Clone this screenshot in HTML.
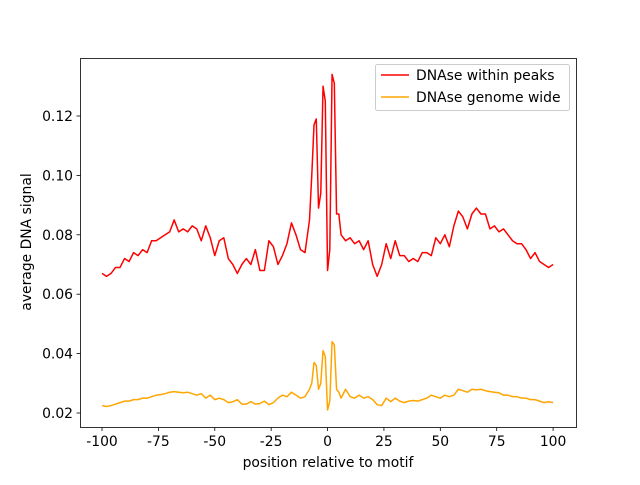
<!DOCTYPE html>
<html><head><meta charset="utf-8"><style>
body{margin:0;background:#fff}
svg text{font-family:"DejaVu Sans","Liberation Sans",sans-serif;font-size:13.9px;fill:#000}
</style></head><body>
<svg id="c" width="640" height="480"></svg>
<script>
const positions=[-100,-98,-96,-94,-92,-90,-88,-86,-84,-82,-80,-78,-76,-74,-72,-70,-68,-66,-64,-62,-60,-58,-56,-54,-52,-50,-48,-46,-44,-42,-40,-38,-36,-34,-32,-30,-28,-26,-24,-22,-20,-18,-16,-14,-12,-10,-8,-7,-6,-5,-4,-3,-2,-1,0,1,2,3,4,5,6,8,10,12,14,16,18,20,22,24,26,28,30,32,34,36,38,40,42,44,46,48,50,52,54,56,58,60,62,64,66,68,70,72,74,76,78,80,82,84,86,88,90,92,94,96,98,100];
const peaks=[0.067,0.066,0.067,0.069,0.069,0.072,0.071,0.074,0.073,0.075,0.074,0.078,0.078,0.079,0.080,0.081,0.085,0.081,0.082,0.081,0.083,0.082,0.078,0.083,0.079,0.073,0.078,0.079,0.072,0.070,0.067,0.070,0.072,0.070,0.075,0.068,0.068,0.078,0.076,0.070,0.073,0.077,0.084,0.080,0.075,0.074,0.085,0.100,0.117,0.119,0.089,0.094,0.130,0.125,0.068,0.075,0.134,0.131,0.087,0.087,0.080,0.078,0.079,0.077,0.078,0.075,0.078,0.070,0.066,0.070,0.077,0.072,0.078,0.073,0.073,0.071,0.072,0.071,0.074,0.074,0.073,0.079,0.077,0.080,0.076,0.083,0.088,0.086,0.082,0.087,0.089,0.087,0.087,0.082,0.083,0.081,0.082,0.080,0.078,0.077,0.077,0.075,0.072,0.074,0.071,0.070,0.069,0.070];
const genome=[0.0225,0.0222,0.0225,0.023,0.0235,0.024,0.024,0.0245,0.0245,0.025,0.025,0.0255,0.026,0.0262,0.0265,0.027,0.0272,0.027,0.0268,0.027,0.0265,0.026,0.0265,0.025,0.026,0.0245,0.025,0.0245,0.0235,0.0238,0.0245,0.023,0.023,0.0238,0.023,0.0232,0.024,0.0228,0.0235,0.025,0.026,0.0255,0.027,0.026,0.025,0.0255,0.028,0.030,0.037,0.036,0.028,0.030,0.041,0.039,0.021,0.024,0.044,0.043,0.028,0.027,0.025,0.028,0.0255,0.025,0.026,0.025,0.0255,0.0245,0.0228,0.0225,0.025,0.0238,0.025,0.024,0.0235,0.024,0.0242,0.024,0.0245,0.025,0.026,0.0255,0.025,0.026,0.0255,0.026,0.028,0.0275,0.027,0.028,0.0278,0.028,0.0275,0.0272,0.027,0.0268,0.026,0.026,0.0255,0.0255,0.025,0.025,0.0245,0.0245,0.024,0.0235,0.0238,0.0235];
const xTicks=[-100,-75,-50,-25,0,25,50,75,100];
const yTicks=[0.02,0.04,0.06,0.08,0.10,0.12];
const NS="http://www.w3.org/2000/svg";
const svg=document.getElementById('c');
const X=v=>102+(v+100)*2.2555;
const Y=v=>413-(v-0.02)*2970;
function mk(t,a,p){const e=document.createElementNS(NS,t);for(const k in a)e.setAttribute(k,a[k]);(p||svg).appendChild(e);return e;}
const frame=mk('rect',{x:80.5,y:58.5,width:496,height:369,fill:'none',stroke:'#000','stroke-width':0.8});


xTicks.forEach(t=>{
 const l=mk('line',{x1:X(t),x2:X(t),y1:427.5,y2:431,stroke:'#000','stroke-width':0.8});
 
 
 const tx=mk('text',{x:X(t),y:446,'text-anchor':'middle'});tx.textContent=t;
 
 
});
yTicks.forEach(t=>{
 const l=mk('line',{x1:76.5,x2:80.5,y1:Y(t),y2:Y(t),stroke:'#000','stroke-width':0.8});
 
 
 const tx=mk('text',{x:73,y:Y(t)+5,'text-anchor':'end'});tx.textContent=t.toFixed(2);
 
 
});
function line(vals,col,name){
 const p=mk('polyline',{points:vals.map((v,i)=>X(positions[i])+','+Y(v)).join(' '),fill:'none',stroke:col,'stroke-width':1.5,'stroke-linejoin':'round'});
 
 
}
line(genome,'orange','series-genome-wide');
line(peaks,'red','series-within-peaks');
const xl=mk('text',{x:328,y:467,'text-anchor':'middle'});xl.textContent='position relative to motif';


const yl=mk('text',{x:0,y:0,'text-anchor':'middle',transform:'translate(31,242) rotate(-90)'});yl.textContent='average DNA signal';


const lg=mk('g',{});


mk('rect',{x:375.5,y:64.5,width:194,height:46,rx:2,fill:'#fff',stroke:'#ccc'},lg);
[['DNAse within peaks','red',75],['DNAse genome wide','orange',97]].forEach(([t,c,y])=>{
 const e=mk('g',{},lg);
 
 
 mk('line',{x1:381,x2:409,y1:y,y2:y,stroke:c,'stroke-width':1.5},e);
 const tx=mk('text',{x:416,y:y+5},e);tx.textContent=t;
});
</script>
</body></html>
